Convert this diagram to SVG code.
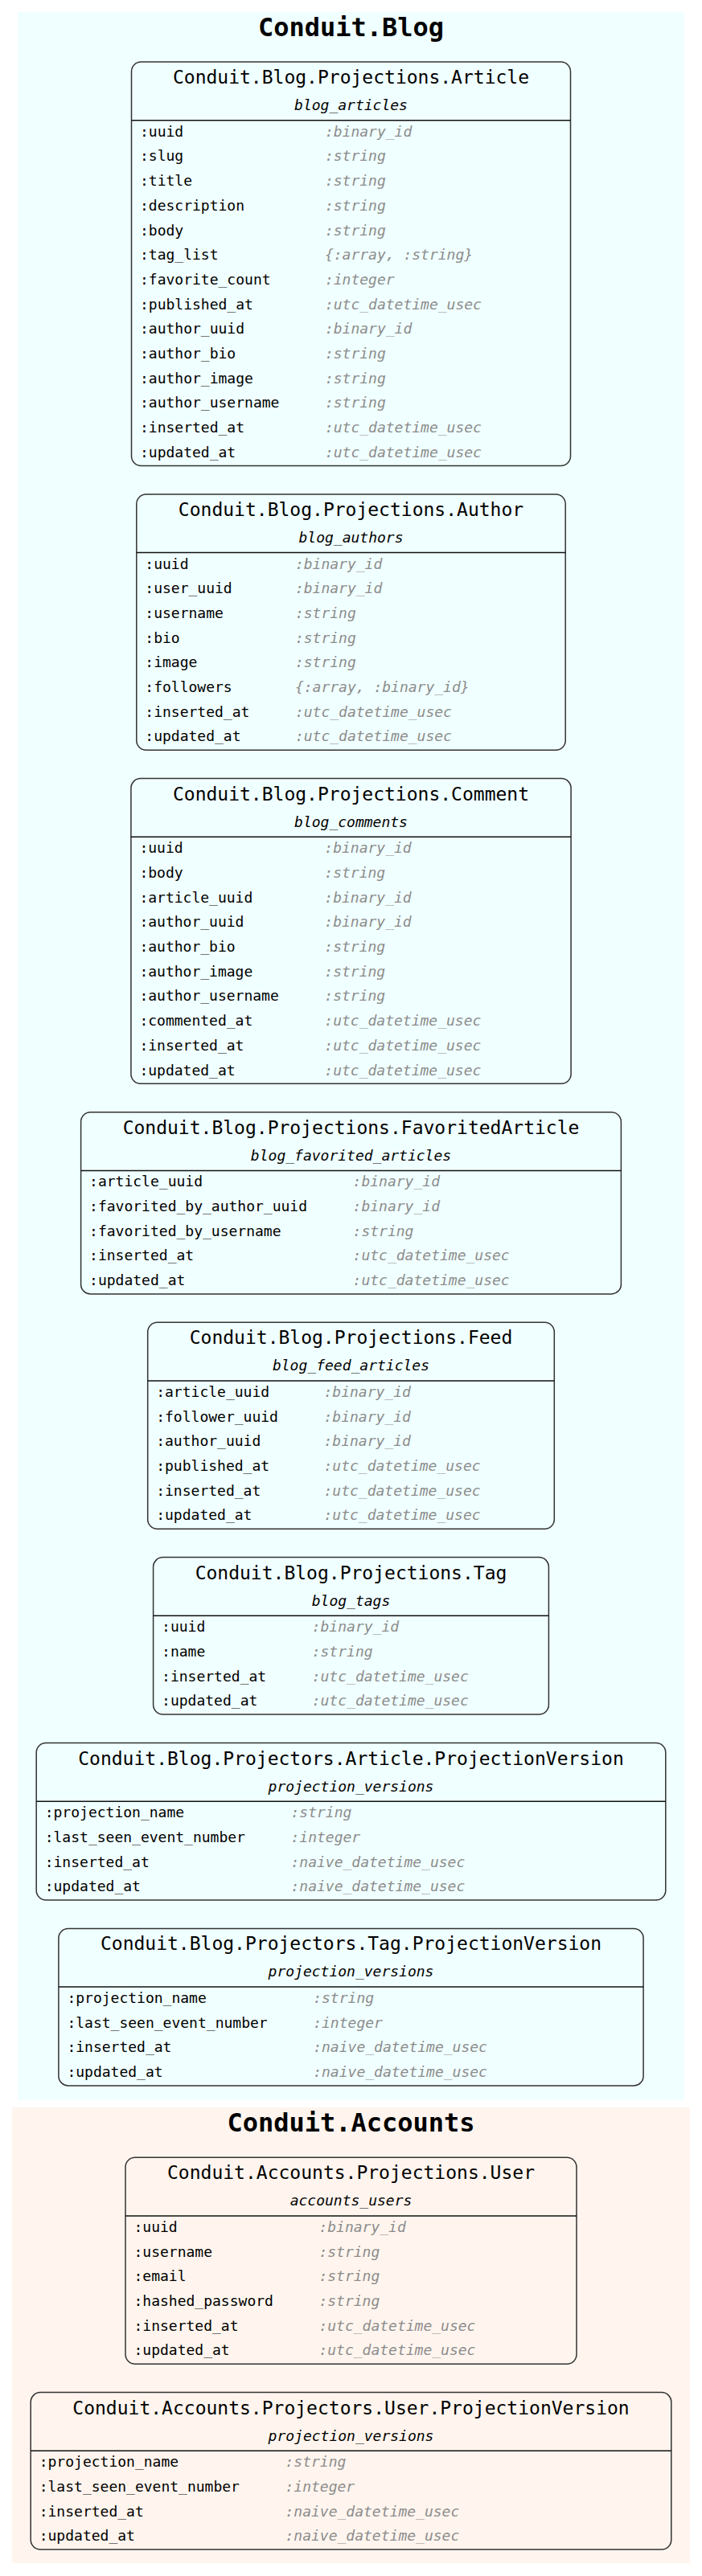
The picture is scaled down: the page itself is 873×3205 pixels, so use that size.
<svg xmlns="http://www.w3.org/2000/svg" width="873" height="3205" viewBox="0 0 873 3205">
<style>
.cl-blog{fill:#f0ffff;stroke:none}
.cl-acc{fill:#fff5ee;stroke:none}
.ct{font-family:"DejaVu Sans Mono",monospace;font-weight:bold;font-size:32px;text-anchor:middle;fill:#000}
.box{fill:none;stroke:#333;stroke-width:1.5}
.sep{stroke:#111;stroke-width:1.5}
.nt{font-family:"DejaVu Sans Mono",monospace;font-size:23px;text-anchor:middle;fill:#000}
.st{font-family:"DejaVu Sans Mono",monospace;font-size:18px;font-style:italic;text-anchor:middle;fill:#000}
.f{font-family:"DejaVu Sans Mono",monospace;font-size:18px;fill:#000}
.t{font-family:"DejaVu Sans Mono",monospace;font-size:18px;font-style:italic;fill:#8c8c8c}
</style>
<rect class="cl-blog" x="22" y="15" width="829" height="2598"/>
<text class="ct" x="436.5" y="45">Conduit.Blog</text>
<rect class="cl-acc" x="15" y="2622" width="843" height="567"/>
<text class="ct" x="436.5" y="2652">Conduit.Accounts</text>
<g id="connectors"/>

<g id="article" transform="translate(163.5,77)">
<rect class="box" x="0" y="0" width="546" height="502.5" rx="12"/>
<text class="nt" x="273" y="27">Conduit.Blog.Projections.Article</text>
<text class="st" x="273" y="60">blog_articles</text>
<line class="sep" x1="0" y1="72.7" x2="546" y2="72.7"/>
<text class="f" x="10.5" y="92.7">:uuid</text><text class="t" x="240.4" y="92.7">:binary_id</text>
<text class="f" x="10.5" y="123.4">:slug</text><text class="t" x="240.4" y="123.4">:string</text>
<text class="f" x="10.5" y="154.1">:title</text><text class="t" x="240.4" y="154.1">:string</text>
<text class="f" x="10.5" y="184.8">:description</text><text class="t" x="240.4" y="184.8">:string</text>
<text class="f" x="10.5" y="215.5">:body</text><text class="t" x="240.4" y="215.5">:string</text>
<text class="f" x="10.5" y="246.2">:tag_list</text><text class="t" x="240.4" y="246.2">{:array, :string}</text>
<text class="f" x="10.5" y="276.9">:favorite_count</text><text class="t" x="240.4" y="276.9">:integer</text>
<text class="f" x="10.5" y="307.6">:published_at</text><text class="t" x="240.4" y="307.6">:utc_datetime_usec</text>
<text class="f" x="10.5" y="338.3">:author_uuid</text><text class="t" x="240.4" y="338.3">:binary_id</text>
<text class="f" x="10.5" y="369">:author_bio</text><text class="t" x="240.4" y="369">:string</text>
<text class="f" x="10.5" y="399.7">:author_image</text><text class="t" x="240.4" y="399.7">:string</text>
<text class="f" x="10.5" y="430.4">:author_username</text><text class="t" x="240.4" y="430.4">:string</text>
<text class="f" x="10.5" y="461.1">:inserted_at</text><text class="t" x="240.4" y="461.1">:utc_datetime_usec</text>
<text class="f" x="10.5" y="491.8">:updated_at</text><text class="t" x="240.4" y="491.8">:utc_datetime_usec</text>
</g>

<g id="author" transform="translate(169.8,614.9)">
<rect class="box" x="0" y="0" width="533.4" height="318.3" rx="12"/>
<text class="nt" x="266.7" y="27">Conduit.Blog.Projections.Author</text>
<text class="st" x="266.7" y="60">blog_authors</text>
<line class="sep" x1="0" y1="72.7" x2="533.4" y2="72.7"/>
<text class="f" x="10.5" y="92.7">:uuid</text><text class="t" x="197.1" y="92.7">:binary_id</text>
<text class="f" x="10.5" y="123.4">:user_uuid</text><text class="t" x="197.1" y="123.4">:binary_id</text>
<text class="f" x="10.5" y="154.1">:username</text><text class="t" x="197.1" y="154.1">:string</text>
<text class="f" x="10.5" y="184.8">:bio</text><text class="t" x="197.1" y="184.8">:string</text>
<text class="f" x="10.5" y="215.5">:image</text><text class="t" x="197.1" y="215.5">:string</text>
<text class="f" x="10.5" y="246.2">:followers</text><text class="t" x="197.1" y="246.2">{:array, :binary_id}</text>
<text class="f" x="10.5" y="276.9">:inserted_at</text><text class="t" x="197.1" y="276.9">:utc_datetime_usec</text>
<text class="f" x="10.5" y="307.6">:updated_at</text><text class="t" x="197.1" y="307.6">:utc_datetime_usec</text>
</g>

<g id="comment" transform="translate(162.9,968.6)">
<rect class="box" x="0" y="0" width="547.2" height="379.7" rx="12"/>
<text class="nt" x="273.6" y="27">Conduit.Blog.Projections.Comment</text>
<text class="st" x="273.6" y="60">blog_comments</text>
<line class="sep" x1="0" y1="72.7" x2="547.2" y2="72.7"/>
<text class="f" x="10.5" y="92.7">:uuid</text><text class="t" x="240.4" y="92.7">:binary_id</text>
<text class="f" x="10.5" y="123.4">:body</text><text class="t" x="240.4" y="123.4">:string</text>
<text class="f" x="10.5" y="154.1">:article_uuid</text><text class="t" x="240.4" y="154.1">:binary_id</text>
<text class="f" x="10.5" y="184.8">:author_uuid</text><text class="t" x="240.4" y="184.8">:binary_id</text>
<text class="f" x="10.5" y="215.5">:author_bio</text><text class="t" x="240.4" y="215.5">:string</text>
<text class="f" x="10.5" y="246.2">:author_image</text><text class="t" x="240.4" y="246.2">:string</text>
<text class="f" x="10.5" y="276.9">:author_username</text><text class="t" x="240.4" y="276.9">:string</text>
<text class="f" x="10.5" y="307.6">:commented_at</text><text class="t" x="240.4" y="307.6">:utc_datetime_usec</text>
<text class="f" x="10.5" y="338.3">:inserted_at</text><text class="t" x="240.4" y="338.3">:utc_datetime_usec</text>
<text class="f" x="10.5" y="369">:updated_at</text><text class="t" x="240.4" y="369">:utc_datetime_usec</text>
</g>

<g id="favorited_article" transform="translate(100.6,1383.7)">
<rect class="box" x="0" y="0" width="671.8" height="226.2" rx="12"/>
<text class="nt" x="335.9" y="27">Conduit.Blog.Projections.FavoritedArticle</text>
<text class="st" x="335.9" y="60">blog_favorited_articles</text>
<line class="sep" x1="0" y1="72.7" x2="671.8" y2="72.7"/>
<text class="f" x="10.5" y="92.7">:article_uuid</text><text class="t" x="338" y="92.7">:binary_id</text>
<text class="f" x="10.5" y="123.4">:favorited_by_author_uuid</text><text class="t" x="338" y="123.4">:binary_id</text>
<text class="f" x="10.5" y="154.1">:favorited_by_username</text><text class="t" x="338" y="154.1">:string</text>
<text class="f" x="10.5" y="184.8">:inserted_at</text><text class="t" x="338" y="184.8">:utc_datetime_usec</text>
<text class="f" x="10.5" y="215.5">:updated_at</text><text class="t" x="338" y="215.5">:utc_datetime_usec</text>
</g>

<g id="feed" transform="translate(183.7,1645.3)">
<rect class="box" x="0" y="0" width="505.6" height="256.9" rx="12"/>
<text class="nt" x="252.8" y="27">Conduit.Blog.Projections.Feed</text>
<text class="st" x="252.8" y="60">blog_feed_articles</text>
<line class="sep" x1="0" y1="72.7" x2="505.6" y2="72.7"/>
<text class="f" x="10.5" y="92.7">:article_uuid</text><text class="t" x="218.8" y="92.7">:binary_id</text>
<text class="f" x="10.5" y="123.4">:follower_uuid</text><text class="t" x="218.8" y="123.4">:binary_id</text>
<text class="f" x="10.5" y="154.1">:author_uuid</text><text class="t" x="218.8" y="154.1">:binary_id</text>
<text class="f" x="10.5" y="184.8">:published_at</text><text class="t" x="218.8" y="184.8">:utc_datetime_usec</text>
<text class="f" x="10.5" y="215.5">:inserted_at</text><text class="t" x="218.8" y="215.5">:utc_datetime_usec</text>
<text class="f" x="10.5" y="246.2">:updated_at</text><text class="t" x="218.8" y="246.2">:utc_datetime_usec</text>
</g>

<g id="tag" transform="translate(190.6,1937.6)">
<rect class="box" x="0" y="0" width="491.8" height="195.5" rx="12"/>
<text class="nt" x="245.9" y="27">Conduit.Blog.Projections.Tag</text>
<text class="st" x="245.9" y="60">blog_tags</text>
<line class="sep" x1="0" y1="72.7" x2="491.8" y2="72.7"/>
<text class="f" x="10.5" y="92.7">:uuid</text><text class="t" x="197.1" y="92.7">:binary_id</text>
<text class="f" x="10.5" y="123.4">:name</text><text class="t" x="197.1" y="123.4">:string</text>
<text class="f" x="10.5" y="154.1">:inserted_at</text><text class="t" x="197.1" y="154.1">:utc_datetime_usec</text>
<text class="f" x="10.5" y="184.8">:updated_at</text><text class="t" x="197.1" y="184.8">:utc_datetime_usec</text>
</g>

<g id="article_projection_version" transform="translate(45.2,2168.5)">
<rect class="box" x="0" y="0" width="782.6" height="195.5" rx="12"/>
<text class="nt" x="391.3" y="27">Conduit.Blog.Projectors.Article.ProjectionVersion</text>
<text class="st" x="391.3" y="60">projection_versions</text>
<line class="sep" x1="0" y1="72.7" x2="782.6" y2="72.7"/>
<text class="f" x="10.5" y="92.7">:projection_name</text><text class="t" x="316.3" y="92.7">:string</text>
<text class="f" x="10.5" y="123.4">:last_seen_event_number</text><text class="t" x="316.3" y="123.4">:integer</text>
<text class="f" x="10.5" y="154.1">:inserted_at</text><text class="t" x="316.3" y="154.1">:naive_datetime_usec</text>
<text class="f" x="10.5" y="184.8">:updated_at</text><text class="t" x="316.3" y="184.8">:naive_datetime_usec</text>
</g>

<g id="tag_projection_version" transform="translate(72.9,2399.4)">
<rect class="box" x="0" y="0" width="727.2" height="195.5" rx="12"/>
<text class="nt" x="363.6" y="27">Conduit.Blog.Projectors.Tag.ProjectionVersion</text>
<text class="st" x="363.6" y="60">projection_versions</text>
<line class="sep" x1="0" y1="72.7" x2="727.2" y2="72.7"/>
<text class="f" x="10.5" y="92.7">:projection_name</text><text class="t" x="316.3" y="92.7">:string</text>
<text class="f" x="10.5" y="123.4">:last_seen_event_number</text><text class="t" x="316.3" y="123.4">:integer</text>
<text class="f" x="10.5" y="154.1">:inserted_at</text><text class="t" x="316.3" y="154.1">:naive_datetime_usec</text>
<text class="f" x="10.5" y="184.8">:updated_at</text><text class="t" x="316.3" y="184.8">:naive_datetime_usec</text>
</g>

<g id="user" transform="translate(156,2684.3)">
<rect class="box" x="0" y="0" width="561" height="256.9" rx="12"/>
<text class="nt" x="280.5" y="27">Conduit.Accounts.Projections.User</text>
<text class="st" x="280.5" y="60">accounts_users</text>
<line class="sep" x1="0" y1="72.7" x2="561" y2="72.7"/>
<text class="f" x="10.5" y="92.7">:uuid</text><text class="t" x="240.4" y="92.7">:binary_id</text>
<text class="f" x="10.5" y="123.4">:username</text><text class="t" x="240.4" y="123.4">:string</text>
<text class="f" x="10.5" y="154.1">:email</text><text class="t" x="240.4" y="154.1">:string</text>
<text class="f" x="10.5" y="184.8">:hashed_password</text><text class="t" x="240.4" y="184.8">:string</text>
<text class="f" x="10.5" y="215.5">:inserted_at</text><text class="t" x="240.4" y="215.5">:utc_datetime_usec</text>
<text class="f" x="10.5" y="246.2">:updated_at</text><text class="t" x="240.4" y="246.2">:utc_datetime_usec</text>
</g>

<g id="user_projection_version" transform="translate(38.2,2976.6)">
<rect class="box" x="0" y="0" width="796.6" height="195.5" rx="12"/>
<text class="nt" x="398.3" y="27">Conduit.Accounts.Projectors.User.ProjectionVersion</text>
<text class="st" x="398.3" y="60">projection_versions</text>
<line class="sep" x1="0" y1="72.7" x2="796.6" y2="72.7"/>
<text class="f" x="10.5" y="92.7">:projection_name</text><text class="t" x="316.3" y="92.7">:string</text>
<text class="f" x="10.5" y="123.4">:last_seen_event_number</text><text class="t" x="316.3" y="123.4">:integer</text>
<text class="f" x="10.5" y="154.1">:inserted_at</text><text class="t" x="316.3" y="154.1">:naive_datetime_usec</text>
<text class="f" x="10.5" y="184.8">:updated_at</text><text class="t" x="316.3" y="184.8">:naive_datetime_usec</text>
</g>
</svg>
